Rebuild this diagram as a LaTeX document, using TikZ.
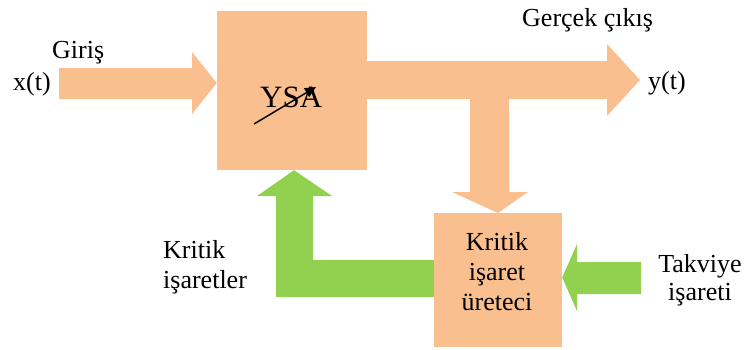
\documentclass[tikz,border=0pt]{standalone}
\usepackage{fontspec}
\setmainfont{Liberation Serif}
\usetikzlibrary{arrows.meta}
\definecolor{peach}{RGB}{249,191,143}
\definecolor{leaf}{RGB}{146,208,80}
\tikzset{
  blockbox/.style={fill=peach, draw=none, inner sep=0pt},
  peacharrow/.style={fill=peach, draw=none},
  greenarrow/.style={fill=leaf, draw=none},
  lbl/.style={font=\fontsize{26}{30}\selectfont, inner sep=0pt, anchor=base west},
  lblc/.style={font=\fontsize{26}{30}\selectfont, inner sep=0pt, anchor=base},
}
\begin{document}
\begin{tikzpicture}[x=1pt, y=-1pt]
  \useasboundingbox (0,0) rectangle (748,349);

  % processing blocks
  \node[blockbox, minimum width=150pt, minimum height=159pt] (ysa) at (292,90.5) {};
  \node[blockbox, minimum width=128pt, minimum height=134pt] (critic) at (498,280) {};

  % input block arrow
  \fill[peacharrow] (59,68) -- (192,68) -- (192,52) -- (ysa.west |- 0,83)
        -- (192,114) -- (192,99) -- (59,99) -- cycle;
  % output block arrow
  \fill[peacharrow] (ysa.east |- 0,61) -- (607,61) -- (607,44) -- (640,80)
        -- (607,116) -- (607,99) -- (ysa.east |- 0,99) -- cycle;
  % branch towards the critic block
  \fill[peacharrow] (470,99) -- (509,99) -- (509,192) -- (528,192)
        -- (critic.north |- 0,213) -- (452,192) -- (470,192) -- cycle;

  % critic signals back to the network
  \fill[greenarrow] (critic.west |- 0,260) -- (313,260) -- (313,196) -- (332,196)
        -- (ysa.south -| 294,0) -- (257,196) -- (276,196) -- (276,297)
        -- (critic.west |- 0,297) -- cycle;
  % reinforcement signal input
  \fill[greenarrow] (641,262) -- (577,262) -- (577,244) -- (critic.east |- 0,277.5)
        -- (577,311) -- (577,294) -- (641,294) -- cycle;

  % labels
  \node[lbl] (giris) at (52,58) {Giriş};
  \node[lbl] (xt) at (13,90) {x(t)};
  \node[lbl] (gercek) at (522,26) {Gerçek çıkış};
  \node[lbl] (yt) at (648,89) {y(t)};
  \node[lbl, font=\fontsize{31}{35}\selectfont] (ysatext) at (260,107) {YSA};
  \node[lbl] (kritik1) at (163,258) {Kritik};
  \node[lbl] (kritik2) at (163,288) {işaretler};
  \node[lblc] (cg1) at (497,250) {Kritik};
  \node[lblc] (cg2) at (497,280) {işaret};
  \node[lblc] (cg3) at (497,310) {üreteci};
  \node[lblc] (tak1) at (700,272) {Takviye};
  \node[lblc] (tak2) at (700,300) {işareti};

  % adjustable weight mark
  \coordinate (wtail) at (254,124);
  \coordinate (whead) at (316,87);
  \draw[line width=1.5pt, -{Triangle[length=11pt, width=10pt]}] (wtail) -- (whead);
\end{tikzpicture}
\end{document}
